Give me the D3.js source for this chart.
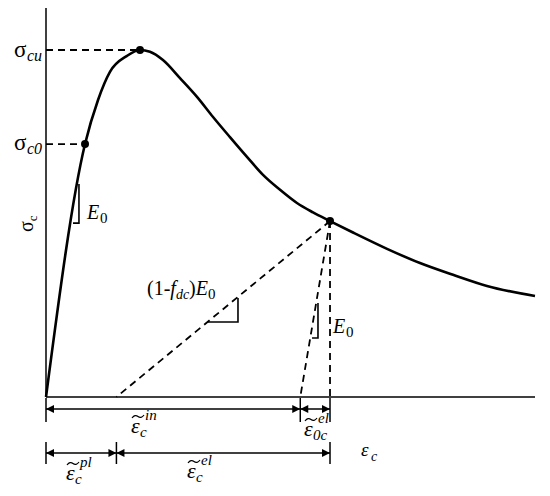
<!DOCTYPE html>
<head>
	<script src="https://d3js.org/d3.v7.min.js"></script>
	<style>
		body { margin: 0; background: #fff; }
		text { font-family: "Liberation Serif", "DejaVu Serif", serif; fill: #000; }
		.it { font-style: italic; }
	</style>
</head>
<body>
<script>
	// concrete compressive stress-strain sketch (normalised units, sigma_cu = 1)

	var width = 550;
	var height = 496;

	// envelope curve: strain, stress
	var strain = [0, 0.399, 0.532, 0.654, 0.828, 0.961, 1.063, 1.196, 1.370, 1.544, 1.708, 1.881, 2.055,
		2.219, 2.393, 2.566, 2.730, 2.904, 3.139, 3.487, 3.824, 4.162, 4.509, 5.0];
	var stress = [0, 0.729, 0.856, 0.937, 0.983, 1.0, 0.995, 0.971, 0.919, 0.865, 0.807, 0.749, 0.692,
		0.640, 0.597, 0.559, 0.532, 0.507, 0.474, 0.427, 0.386, 0.352, 0.320, 0.291];

	// key points
	var peakPt = [0.961, 1.0];        // sigma_cu
	var c0Pt = [0.399, 0.729];        // sigma_c0
	var unloadPt = [2.904, 0.507];    // unloading point
	var epsPl = 0.72;                 // damaged unloading intercept
	var epsIn = 2.6;                  // elastic unloading intercept

	// slope triangles: [x of vertical leg, top stress, bottom stress, x of horizontal start]
	var triangles = [
		[0.337, 0.614, 0.501, 0.276],
		[1.963, 0.285, 0.216, 1.656],
		[2.781, 0.271, 0.170, 2.720]
	];

	var xScale = d3.scaleLinear().domain([0, 5]).range([46, 535]);
	var yScale = d3.scaleLinear().domain([0, 1.121]).range([397, 8]);

	var svg = d3.select("body").append("svg")
		.attr("width", width)
		.attr("height", height);

	// axes
	svg.append("line")
		.attr("x1", xScale(0)).attr("y1", yScale(1.121))
		.attr("x2", xScale(0)).attr("y2", yScale(0))
		.attr("stroke", "#000").attr("stroke-width", 1.5);
	svg.append("line")
		.attr("x1", xScale(0)).attr("y1", yScale(0))
		.attr("x2", xScale(5)).attr("y2", yScale(0))
		.attr("stroke", "#000").attr("stroke-width", 1.5);

	// dashed helpers
	function dashed(a, b) {
		svg.append("line")
			.attr("x1", xScale(a[0])).attr("y1", yScale(a[1]))
			.attr("x2", xScale(b[0])).attr("y2", yScale(b[1]))
			.attr("stroke", "#000")
			.attr("stroke-width", 1.8)
			.attr("stroke-dasharray", "7,5");
	}
	dashed([0, peakPt[1]], peakPt);
	dashed([0, c0Pt[1]], c0Pt);
	dashed(unloadPt, [epsPl, 0]);
	dashed(unloadPt, [epsIn, 0]);
	dashed(unloadPt, [unloadPt[0], 0]);

	// envelope
	var pts = strain.map(function(d, i) { return [d, stress[i]]; });
	var line = d3.line()
		.x(function(d) { return xScale(d[0]); })
		.y(function(d) { return yScale(d[1]); })
		.curve(d3.curveMonotoneX);
	svg.append("path")
		.datum(pts)
		.attr("d", line)
		.attr("fill", "none")
		.attr("stroke", "#000")
		.attr("stroke-width", 2.6);

	// dots
	svg.selectAll("circle.pt")
		.data([peakPt, c0Pt, unloadPt])
		.enter().append("circle")
		.attr("cx", function(d) { return xScale(d[0]); })
		.attr("cy", function(d) { return yScale(d[1]); })
		.attr("r", 4)
		.attr("fill", "#000");

	// slope triangles
	triangles.forEach(function(t) {
		svg.append("path")
			.attr("d", "M" + xScale(t[0]) + "," + yScale(t[1]) +
				"L" + xScale(t[0]) + "," + yScale(t[2]) +
				"L" + xScale(t[3]) + "," + yScale(t[2]))
			.attr("fill", "none")
			.attr("stroke", "#000")
			.attr("stroke-width", 1.6);
	});

	// dimension rows
	var defs = svg.append("defs");
	function marker(id, path) {
		defs.append("marker")
			.attr("id", id)
			.attr("viewBox", "0 0 10 10")
			.attr("refX", path == "end" ? 10 : 0).attr("refY", 5)
			.attr("markerWidth", 10).attr("markerHeight", 8)
			.attr("markerUnits", "userSpaceOnUse")
			.attr("orient", "auto")
			.append("path")
			.attr("d", path == "end" ? "M0,0L10,5L0,10Z" : "M10,0L0,5L10,10Z")
			.attr("fill", "#000");
	}
	marker("arrEnd", "end");
	marker("arrStart", "start");

	var rows = [
		{ y: 409, t0: 398, t1: 422, stops: [0, epsIn, unloadPt[0]] },
		{ y: 453, t0: 442, t1: 464, stops: [0, epsPl, unloadPt[0]] }
	];
	rows.forEach(function(r) {
		r.stops.forEach(function(s) {
			svg.append("line")
				.attr("x1", xScale(s)).attr("x2", xScale(s))
				.attr("y1", r.t0).attr("y2", r.t1)
				.attr("stroke", "#000").attr("stroke-width", 1.5);
		});
		for (var i = 0; i < r.stops.length - 1; i++) {
			svg.append("line")
				.attr("x1", xScale(r.stops[i])).attr("x2", xScale(r.stops[i + 1]))
				.attr("y1", r.y).attr("y2", r.y)
				.attr("stroke", "#000").attr("stroke-width", 1.5)
				.attr("marker-start", "url(#arrStart)")
				.attr("marker-end", "url(#arrEnd)");
		}
	});

	// text helpers
	function txt(x, y, s, size, italic) {
		return svg.append("text")
			.attr("x", x).attr("y", y)
			.attr("class", italic ? "it" : null)
			.style("font-size", size + "px")
			.text(s);
	}
	function tildeEps(x, y, sub, sup) {
		txt(x, y, "\u03b5", 22, true);
		// tilde drawn as a small wave above the epsilon
		svg.append("path")
			.attr("d", "M" + (x + 1) + "," + (y - 15) +
				"q3,-4 6,-1.5 t6,-1.5")
			.attr("fill", "none")
			.attr("stroke", "#000")
			.attr("stroke-width", 1.2);
		txt(x + 9, y + 4, sub, 15, true);
		txt(x + 14, y - 13, sup, 15, true);
	}

	// sigma labels
	txt(14, 57, "\u03c3", 23, false);
	txt(27, 61, "cu", 16, true);
	txt(14, 150, "\u03c3", 23, false);
	txt(27, 154, "c0", 16, true);
	svg.append("text")
		.attr("transform", "translate(33,232) rotate(-90)")
		.style("font-size", "20px")
		.text("\u03c3")
		.append("tspan").attr("dy", 4).style("font-size", "13px").text("c");

	// modulus labels
	txt(87, 219, "E", 20, true);
	txt(100, 223, "0", 15, false);
	var lab = svg.append("text").attr("x", 147).attr("y", 295).style("font-size", "20px");
	lab.append("tspan").text("(1-");
	lab.append("tspan").attr("class", "it").text("f");
	lab.append("tspan").attr("class", "it").attr("dy", 4).style("font-size", "14px").text("dc");
	lab.append("tspan").attr("dy", -4).text(")");
	lab.append("tspan").attr("class", "it").text("E");
	lab.append("tspan").attr("dy", 4).style("font-size", "15px").text("0");
	txt(333, 333, "E", 20, true);
	txt(346, 337, "0", 15, false);

	// strain labels
	tildeEps(131, 433, "c", "in");
	tildeEps(304, 436, "0c", "el");
	tildeEps(66, 480, "c", "pl");
	tildeEps(187, 478, "c", "el");
	txt(361, 456, "\u03b5", 19, true);
	txt(371, 461, "c", 14, true);
</script>
</body>
</html>
